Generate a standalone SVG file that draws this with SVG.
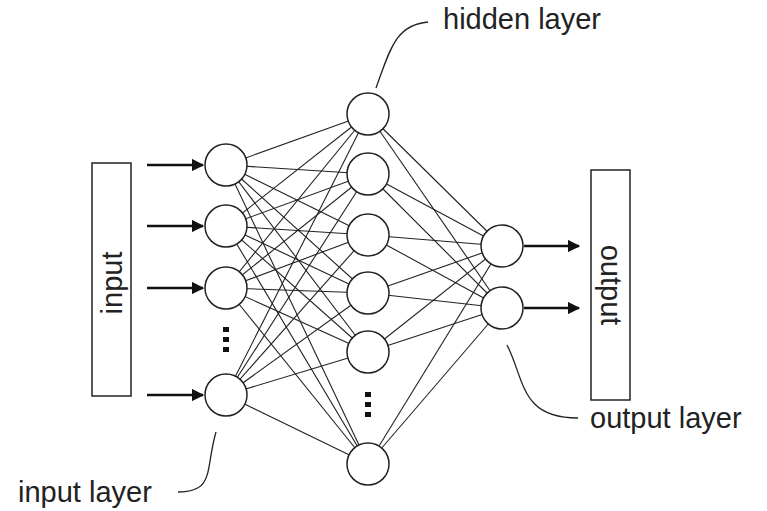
<svg xmlns="http://www.w3.org/2000/svg" width="767" height="511" viewBox="0 0 767 511">
<style>
.n{fill:#fff;stroke:#222;stroke-width:1.5}
.c line{stroke:#222;stroke-width:1.1}
.a{stroke:#111;stroke-width:2.5;marker-end:url(#ah)}
.t{font-family:"Liberation Sans",Arial,sans-serif;font-size:29px;fill:#222}
.l{fill:none;stroke:#222;stroke-width:1.3}
</style>
<defs><marker id="ah" viewBox="0 0 10 10" refX="9" refY="5" markerWidth="5" markerHeight="5" orient="auto"><path d="M0,0L10,5L0,10z" fill="#111"/></marker></defs>
<rect width="767" height="511" fill="#fff"/>
<g id="connectors" class="c">
<g id="ih">
<line x1="226" y1="165" x2="368" y2="114"/><line x1="226" y1="165" x2="368" y2="174"/><line x1="226" y1="165" x2="368" y2="235"/><line x1="226" y1="165" x2="368" y2="293"/><line x1="226" y1="165" x2="368" y2="352"/><line x1="226" y1="165" x2="368" y2="464"/>
<line x1="226" y1="226" x2="368" y2="114"/><line x1="226" y1="226" x2="368" y2="174"/><line x1="226" y1="226" x2="368" y2="235"/><line x1="226" y1="226" x2="368" y2="293"/><line x1="226" y1="226" x2="368" y2="352"/><line x1="226" y1="226" x2="368" y2="464"/>
<line x1="226" y1="288" x2="368" y2="114"/><line x1="226" y1="288" x2="368" y2="174"/><line x1="226" y1="288" x2="368" y2="235"/><line x1="226" y1="288" x2="368" y2="293"/><line x1="226" y1="288" x2="368" y2="352"/><line x1="226" y1="288" x2="368" y2="464"/>
<line x1="226" y1="395" x2="368" y2="114"/><line x1="226" y1="395" x2="368" y2="174"/><line x1="226" y1="395" x2="368" y2="235"/><line x1="226" y1="395" x2="368" y2="293"/><line x1="226" y1="395" x2="368" y2="352"/><line x1="226" y1="395" x2="368" y2="464"/>
</g>
<g id="ho">
<line x1="368" y1="114" x2="502" y2="246"/><line x1="368" y1="174" x2="502" y2="246"/><line x1="368" y1="235" x2="502" y2="246"/><line x1="368" y1="293" x2="502" y2="246"/><line x1="368" y1="352" x2="502" y2="246"/><line x1="368" y1="464" x2="502" y2="246"/>
<line x1="368" y1="114" x2="502" y2="308"/><line x1="368" y1="174" x2="502" y2="308"/><line x1="368" y1="235" x2="502" y2="308"/><line x1="368" y1="293" x2="502" y2="308"/><line x1="368" y1="352" x2="502" y2="308"/><line x1="368" y1="464" x2="502" y2="308"/>
</g>
<path class="a" d="M147,165H203"/><path class="a" d="M147,226H203"/><path class="a" d="M147,288H203"/><path class="a" d="M147,395H203"/>
<path class="a" d="M524,246H579"/><path class="a" d="M524,308H579"/>
<path class="l" d="M376,88C390,50 395,25 428,22"/>
<path class="l" d="M507,345C525,380 520,418 578,418"/>
<path class="l" d="M216,432C205,470 215,492 178,492"/>
</g>
<g id="input-box"><rect x="92" y="163" width="39" height="233" fill="#fff" stroke="#222" stroke-width="1.5"/><text class="t" transform="translate(122,283) rotate(-90)" text-anchor="middle">input</text></g>
<g id="output-box"><rect x="591" y="170" width="39" height="230" fill="#fff" stroke="#222" stroke-width="1.5"/><text class="t" transform="translate(601,285) rotate(90)" text-anchor="middle">output</text></g>
<g id="input-nodes">
<circle class="n" cx="226" cy="165" r="21"/><circle class="n" cx="226" cy="226" r="21"/><circle class="n" cx="226" cy="288" r="21"/><circle class="n" cx="226" cy="395" r="21"/>
<g fill="#111"><rect x="223" y="327" width="6" height="5"/><rect x="223" y="337" width="6" height="5"/><rect x="223" y="347" width="6" height="5"/></g>
</g>
<g id="hidden-nodes">
<circle class="n" cx="368" cy="114" r="21"/><circle class="n" cx="368" cy="174" r="21"/><circle class="n" cx="368" cy="235" r="21"/><circle class="n" cx="368" cy="293" r="21"/><circle class="n" cx="368" cy="352" r="21"/><circle class="n" cx="368" cy="464" r="21"/>
<g fill="#111"><rect x="365" y="392" width="6" height="5"/><rect x="365" y="402" width="6" height="5"/><rect x="365" y="412" width="6" height="5"/></g>
</g>
<g id="output-nodes"><circle class="n" cx="502" cy="246" r="21"/><circle class="n" cx="502" cy="308" r="21"/></g>
<g id="labels">
<text class="t" x="443" y="29">hidden layer</text>
<text class="t" x="590" y="428">output layer</text>
<text class="t" x="18" y="502">input layer</text>
</g>
</svg>
